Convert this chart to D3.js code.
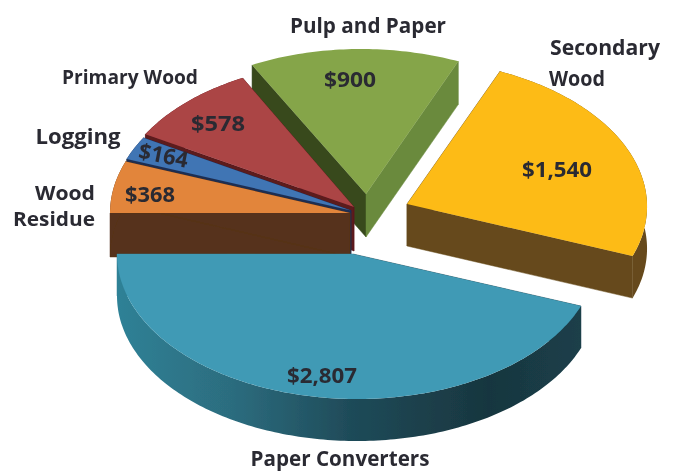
<!DOCTYPE html>
<html><head><meta charset="utf-8">
<script src="https://cdn.jsdelivr.net/npm/d3@7/dist/d3.min.js"></script>
<style>html,body{margin:0;padding:0;background:#fff}svg{display:block}text{font-family:"Open Sans",sans-serif;font-weight:700;fill:#2a2a33}</style>
</head><body><div id="c"></div>
<script>
const categories = ["Pulp and Paper","Secondary Wood","Paper Converters","Wood Residue","Logging","Primary Wood"];
const values = [900,1540,2807,368,164,578];
const valueLabels = ["$900","$1,540","$2,807","$368","$164","$578"];

const W=676,H=472,RX=240,RY=145;
const deg=Math.PI/180;
const layout=[
 {cx:366,cy:194,ax:366,sk:-.035,d:43,top:"#85a548",rim:"none",a:"#37491c",b:"#6a8a3e",lx:350,ly:87,ls:22,lw:52,rot:0},
 {cx:407,cy:204,ax:407,sk:-.03,d:42,top:"#fdbb13",rim:"#664a1b",a:"#664a1b",b:"#664a1b",lx:557,ly:177,ls:22,lw:70,rot:0},
 {cx:357,cy:254,ax:353,sk:0,d:42,top:"#3f9ab5",rim:"url(#tealSide)",a:"#1d4552",b:"#2f7d92",lx:322,ly:383,ls:22,lw:70,rot:0},
 {cx:350,cy:213,ax:350,sk:0,d:44,top:"#e2853a",rim:"#57331a",a:"#57331a",b:"#57331a",lx:150,ly:202,ls:22,lw:50,rot:0},
 {cx:351,cy:210.5,ax:351,sk:0,d:44,top:"#3f74b4",rim:"#1f2f52",a:"#1f2f52",b:"#1f2f52",lx:162,ly:163,ls:22,lw:50,rot:11},
 {cx:354,cy:207,ax:354,sk:-.015,d:44,top:"#ab4445",rim:"#5c1a1e",a:"#5c1a1e",b:"#5c1a1e",lx:218,ly:131,ls:22,lw:54,rot:0}
];
const nameLabels=[
 {lines:[["Pulp and Paper",368,33,156]],anchor:"middle",s:21},
 {lines:[["Secondary",605,55,110],["Wood",577,86,56]],anchor:"middle",s:22},
 {lines:[["Paper Converters",340,466,179]],anchor:"middle",s:21},
 {lines:[["Wood",65,200,60],["Residue",54,226,82]],anchor:"middle",s:19.5},
 {lines:[["Logging",78,144,85]],anchor:"middle",s:21},
 {lines:[["Primary Wood",130,84,136]],anchor:"middle",s:19}
];

const svg=d3.select("#c").append("svg").attr("width",W).attr("height",H).attr("viewBox",[0,0,W,H]);
const defs=svg.append("defs");
defs.append("filter").attr("id","soft").attr("x",0).attr("y",0).attr("width",1).attr("height",1)
  .append("feGaussianBlur").attr("stdDeviation",.45);
const grad=defs.append("linearGradient").attr("id","tealSide")
  .attr("gradientUnits","userSpaceOnUse").attr("x1",118).attr("x2",581).attr("y1",0).attr("y2",0);
[[0,"#2f8196"],[.25,"#2c6c7e"],[.5,"#1f4b59"],[.8,"#18363f"],[1,"#1b3f4a"]].forEach(([o,c])=>grad.append("stop").attr("offset",o).attr("stop-color",c));
const root=svg.append("g").attr("filter","url(#soft)");

const pie=d3.pie().sort(null).startAngle(-27.13*deg).endAngle((360-27.13)*deg);
const arcs=pie(values);
const line=d3.line();

function rimPts(a,l){
  const n=Math.max(8,Math.ceil((a.endAngle-a.startAngle)/deg));
  return d3.range(n+1).map(i=>{
    const t=a.startAngle+(a.endAngle-a.startAngle)*i/n;
    const y=RY*Math.cos(t);
    return [l.cx+RX*Math.sin(t)+l.sk*y,l.cy-y];
  });
}
const down=(p,d)=>[p[0],p[1]+d];
// painter's order: back slices first, large front slice last
const order=[0,1,5,4,3,2];
order.forEach(i=>{
  const a=arcs[i],l=layout[i],pts=rimPts(a,l),apex=[l.ax,l.cy],d=l.d;
  const g=root.append("g").attr("class","slice").attr("data-name",categories[i]);
  const first=pts[0],last=pts[pts.length-1];
  const quad=(p,q)=>line([p,q,down(q,d),down(p,d)])+"Z";
  g.append("path").attr("d",quad(apex,first)).attr("fill",l.a).attr("stroke",l.a).attr("stroke-width",.5);
  g.append("path").attr("d",quad(apex,last)).attr("fill",l.b).attr("stroke",l.b).attr("stroke-width",.5);
  g.append("path").attr("d",line(pts.concat(pts.map(p=>down(p,d)).reverse()))+"Z").attr("fill",l.rim);
  g.append("path").attr("d",line([apex].concat(pts))+"Z").attr("fill",l.top);
});
arcs.forEach((a,i)=>{
  const l=layout[i];
  root.append("text").text(valueLabels[i]).attr("text-anchor","middle")
    .attr("transform",`translate(${l.lx},${l.ly}) rotate(${l.rot})`)
    .attr("font-size",l.ls).attr("font-weight",600)
    .attr("textLength",l.lw).attr("lengthAdjust","spacingAndGlyphs");
});
nameLabels.forEach(n=>n.lines.forEach(([t,x,y,w])=>{
  root.append("text").text(t).attr("x",x).attr("y",y).attr("text-anchor",n.anchor)
    .attr("font-size",n.s).attr("textLength",w).attr("lengthAdjust","spacingAndGlyphs");
}));
</script></body></html>
